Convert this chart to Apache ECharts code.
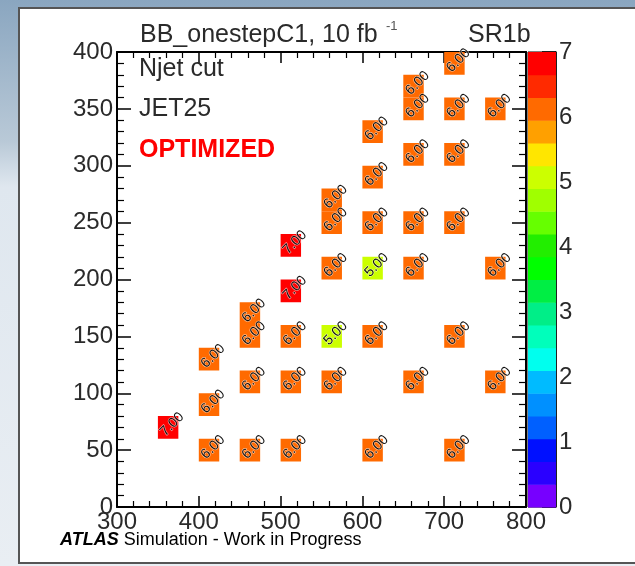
<!DOCTYPE html>
<html>
<head>
<meta charset="utf-8">
<script src="https://cdn.jsdelivr.net/npm/echarts@6/dist/echarts.min.js"></script>
<style>
html,body{margin:0;padding:0;width:635px;height:566px;overflow:hidden;}
#chart{width:635px;height:566px;}
</style>
</head>
<body>
<div id="chart"></div>
<script>
// ---- data ----
const xTicks = [300, 400, 500, 600, 700, 800];
const yTicks = [0, 50, 100, 150, 200, 250, 300, 350, 400];
const zTicks = [0, 1, 2, 3, 4, 5, 6, 7];
const binW = 25;
const binH = 20;
// lower-left bin edges of filled bins, and their values
const cellX = [400,450,500,600,700, 350, 400, 450,500,550,650,750, 400, 450,500,550,600,700, 450, 500, 550,600,650,750, 500, 550,600,650,700, 550, 600, 650,700, 600, 650,700,750, 650, 700];
const cellY = [40,40,40,40,40, 60, 80, 100,100,100,100,100, 120, 140,140,140,140,140, 160, 180, 200,200,200,200, 220, 240,240,240,240, 260, 280, 300,300, 320, 340,340,340, 360, 380];
const cellZ = [6,6,6,6,6, 7, 6, 6,6,6,6,6, 6, 6,6,5,6,6, 6, 7, 6,5,6,6, 7, 6,6,6,6, 6, 6, 6,6, 6, 6,6,6, 6, 6];
// colour palette (bottom to top), 20 bands over 0..7
const palette = ['#7700ff','#2a00ff','#0010ff','#0060ff','#0090ff','#00bbff','#00ffee','#00ffbb','#00ee88','#00ee44','#00ff00','#22ee00','#66ff00','#a0ff00','#ccff00','#ffe600','#ffa000','#ff6a00','#ff2a00','#ff0000'];
const zMin = 0, zMax = 7;

const FONT = 'Liberation Sans, Arial, Helvetica, sans-serif';
const bandStep = (zMax - zMin) / palette.length;
function colorOf(v) {
  let i = Math.floor((v - zMin) / bandStep + 1e-9);
  if (i < 0) i = 0;
  if (i > palette.length - 1) i = palette.length - 1;
  return palette[i];
}

const cellData = cellX.map((x, i) => [x, cellY[i], cellZ[i]]);
const bandData = palette.map((c, i) => [i]);

const chart = echarts.init(document.getElementById('chart'), null, {renderer: 'canvas'});

const axisLineStyle = {color: '#000', width: 2};
const labelStyle = {color: '#2a2a2a', fontSize: 24, fontFamily: FONT};

const option = {
  animation: false,
  backgroundColor: 'transparent',
  grid: [
    {left: 117, top: 52, width: 409, height: 455, containLabel: false},
    {left: 528, top: 52, width: 28, height: 455, show: true, borderColor: '#000', borderWidth: 1, backgroundColor: 'transparent'}
  ],
  xAxis: [
    {gridIndex: 0, type: 'value', min: 300, max: 800, interval: 100, position: 'bottom',
     axisLine: {show: true, onZero: false, lineStyle: axisLineStyle},
     axisTick: {show: true, inside: true, length: 11, lineStyle: {color: '#000', width: 1.5}},
     minorTick: {show: true, splitNumber: 5, length: 6, lineStyle: {color: '#000', width: 1.2}},
     splitLine: {show: false},
     axisLabel: Object.assign({margin: 3, formatter: v => xTicks.includes(v) ? String(v) : ''}, labelStyle)},
    {gridIndex: 0, type: 'value', min: 300, max: 800, interval: 100, position: 'top',
     axisLine: {show: true, onZero: false, lineStyle: axisLineStyle},
     axisTick: {show: true, inside: true, length: 11, lineStyle: {color: '#000', width: 1.5}},
     minorTick: {show: true, splitNumber: 5, length: 6, lineStyle: {color: '#000', width: 1.2}},
     splitLine: {show: false}, axisLabel: {show: false}},
    {gridIndex: 1, type: 'value', min: 0, max: 1, show: false}
  ],
  yAxis: [
    {gridIndex: 0, type: 'value', min: 0, max: 400, interval: 50, position: 'left',
     axisLine: {show: true, onZero: false, lineStyle: axisLineStyle},
     axisTick: {show: true, inside: true, length: 14, lineStyle: {color: '#000', width: 1.5}},
     minorTick: {show: true, splitNumber: 5, length: 7, lineStyle: {color: '#000', width: 1.2}},
     splitLine: {show: false},
     axisLabel: Object.assign({margin: 4, formatter: v => yTicks.includes(v) ? String(v) : ''}, labelStyle)},
    {gridIndex: 0, type: 'value', min: 0, max: 400, interval: 50, position: 'right',
     axisLine: {show: true, onZero: false, lineStyle: axisLineStyle},
     axisTick: {show: true, inside: true, length: 14, lineStyle: {color: '#000', width: 1.5}},
     minorTick: {show: true, splitNumber: 5, length: 7, lineStyle: {color: '#000', width: 1.2}},
     splitLine: {show: false}, axisLabel: {show: false}},
    {gridIndex: 1, type: 'value', min: zMin, max: zMax, interval: 1, position: 'right',
     axisLine: {show: true, onZero: false, lineStyle: {color: '#000', width: 1.5}},
     axisTick: {show: true, inside: true, length: 14, lineStyle: {color: '#000', width: 1.5}},
     splitLine: {show: false},
     axisLabel: Object.assign({margin: 3, formatter: v => zTicks.includes(v) ? String(v) : ''}, labelStyle)}
  ],
  series: [
    {
      type: 'custom', xAxisIndex: 2, yAxisIndex: 2, z: 1,
      data: bandData,
      renderItem: function (params, api) {
        const i = api.value(0);
        const p0 = api.coord([0, zMin + i * bandStep]);
        const p1 = api.coord([1, zMin + (i + 1) * bandStep]);
        return {type: 'rect', shape: {x: p0[0], y: p1[1], width: p1[0] - p0[0], height: p0[1] - p1[1] + 0.5},
                style: {fill: palette[i]}};
      }
    },
    {
      type: 'custom', xAxisIndex: 0, yAxisIndex: 0, z: 3,
      data: cellData,
      renderItem: function (params, api) {
        const x = api.value(0), y = api.value(1), v = api.value(2);
        const p0 = api.coord([x, y]);
        const p1 = api.coord([x + binW, y + binH]);
        const c = api.coord([x + binW / 2, y + binH / 2]);
        return {
          type: 'group',
          children: [
            {type: 'rect', shape: {x: p0[0], y: p1[1], width: p1[0] - p0[0], height: p0[1] - p1[1]},
             style: {fill: colorOf(v)}},
            {type: 'text', x: c[0] + 4, y: c[1] - 3, rotation: Math.PI / 4, z2: 10,
             style: {text: v.toFixed(2), fill: '#111', font: '14px ' + FONT, align: 'center', verticalAlign: 'middle',
                     stroke: 'rgba(255,255,255,0.6)', lineWidth: 1.2}}
          ]
        };
      }
    }
  ],
  graphic: [
    {type: 'rect', z: -100, silent: true, shape: {x: 0, y: 0, width: 635, height: 566},
     style: {fill: new echarts.graphic.LinearGradient(0, 0, 0, 1, [
       {offset: 0, color: '#8aa6c0'}, {offset: 0.25, color: '#b9c9d7'}, {offset: 0.33, color: '#dfe7ef'}, {offset: 1, color: '#e9eef3'}])}},
    {type: 'rect', z: -99, silent: true, shape: {x: 19, y: 8, width: 625, height: 555},
     style: {fill: '#ffffff', stroke: '#555555', lineWidth: 2}},
    {type: 'text', z: 100, left: 140, top: 23, style: {text: 'BB_onestepC1, 10 fb', fill: '#2a2a2a', font: '25px ' + FONT}},
    {type: 'text', z: 100, left: 386, top: 20, style: {text: '-1', fill: '#555', font: '13px ' + FONT}},
    {type: 'text', z: 100, left: 468, top: 23, style: {text: 'SR1b', fill: '#2a2a2a', font: '25px ' + FONT}},
    {type: 'text', z: 100, left: 139, top: 57, style: {text: 'Njet cut', fill: '#2a2a2a', font: '25px ' + FONT}},
    {type: 'text', z: 100, left: 139, top: 97, style: {text: 'JET25', fill: '#2a2a2a', font: '25px ' + FONT}},
    {type: 'text', z: 100, left: 139, top: 138, style: {text: 'OPTIMIZED', fill: '#ff0000', font: 'bold 25px ' + FONT}},
    {type: 'text', z: 100, left: 60, top: 531, style: {
      text: '{b|ATLAS} Simulation - Work in Progress', fill: '#000', font: '18px ' + FONT,
      rich: {b: {fontWeight: 'bold', fontStyle: 'italic', fontSize: 18, fontFamily: FONT, fill: '#000'}}}}
  ]
};
chart.setOption(option);
</script>
</body>
</html>
